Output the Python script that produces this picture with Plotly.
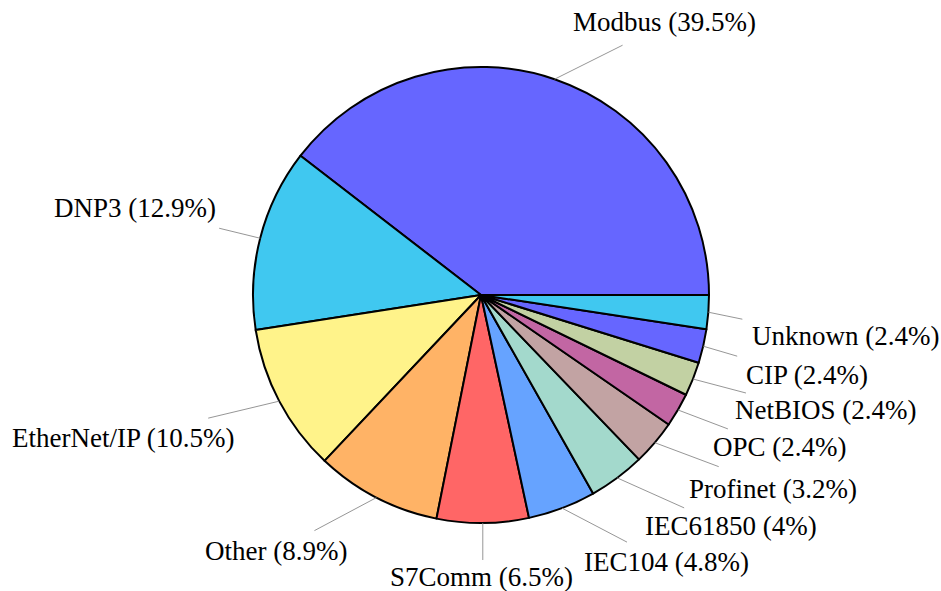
import math
import plotly.graph_objects as go

# ---- data ----
protocols = ["Modbus", "DNP3", "EtherNet/IP", "Other", "S7Comm", "IEC104",
             "IEC61850", "Profinet", "OPC", "NetBIOS", "CIP", "Unknown"]
shares = [39.5, 12.9, 10.5, 8.9, 6.5, 4.8, 4.0, 3.2, 2.4, 2.4, 2.4, 2.4]

# ---- style / layout ----
colors = ["#6666FF", "#40C8F0", "#FFF38A", "#FFB366", "#FF6666", "#66A3FF",
          "#A3D9CC", "#C2A3A3", "#C266A3", "#C2D1A3", "#6666FF", "#40C8F0"]
W, H = 941, 591
CX, CY, R = 481, 295, 228
# leader-line end, offset (px) from the slice's outer edge at its mid angle
pin_offsets = [(68, -34), (-41, -10), (-71, 17), (-62, 33), (0, 37), (65, 34),
               (67, 30), (64, 24), (50, 19), (53, 14), (34, 10), (34, 7)]
# label centre, offset (px) from the same edge point
label_offsets = [(110, -57), (-125, -30), (-156, 37), (-100, 53), (-1, 54), (104, 54),
                 (114, 48), (118, 46), (102, 37), (133, 31), (104, 29), (137, 24)]
FONT = "Liberation Serif"
FSIZE = 27

total = sum(shares)
first_deg = 360.0 * shares[0] / total

fig = go.Figure(go.Pie(
    labels=protocols,
    values=shares,
    sort=False,
    direction="counterclockwise",
    rotation=90 - first_deg,   # first slice starts at 3 o'clock, runs counterclockwise
    textinfo="none",
    hoverinfo="label+value",
    marker=dict(colors=colors, line=dict(color="black", width=2)),
    domain=dict(x=[(CX - R) / W, (CX + R) / W],
                y=[1 - (CY + R) / H, 1 - (CY - R) / H]),
    showlegend=False,
))

cum = 0.0
shapes, annotations = [], []
for name, v, po, lo in zip(protocols, shares, pin_offsets, label_offsets):
    mid = (cum + v / 2) / total * 2 * math.pi
    cum += v
    ex = CX + R * math.cos(mid)
    ey = CY - R * math.sin(mid)
    shapes.append(dict(type="line", xref="paper", yref="paper",
                       x0=ex / W, y0=1 - ey / H,
                       x1=(ex + po[0]) / W, y1=1 - (ey + po[1]) / H,
                       line=dict(color="#8a8a8a", width=0.9)))
    annotations.append(dict(xref="paper", yref="paper",
                            x=(ex + lo[0]) / W, y=1 - (ey + lo[1]) / H,
                            text=f"{name} ({v:g}%)", showarrow=False,
                            xanchor="center", yanchor="middle",
                            font=dict(family=FONT, size=FSIZE, color="black")))

fig.update_layout(
    width=W, height=H,
    margin=dict(l=0, r=0, t=0, b=0),
    paper_bgcolor="white", plot_bgcolor="white",
    shapes=shapes, annotations=annotations,
)

fig.write_html("out.html",
               config={"displayModeBar": False},
               post_script="document.body.style.margin='0';document.body.style.overflow='hidden';")
